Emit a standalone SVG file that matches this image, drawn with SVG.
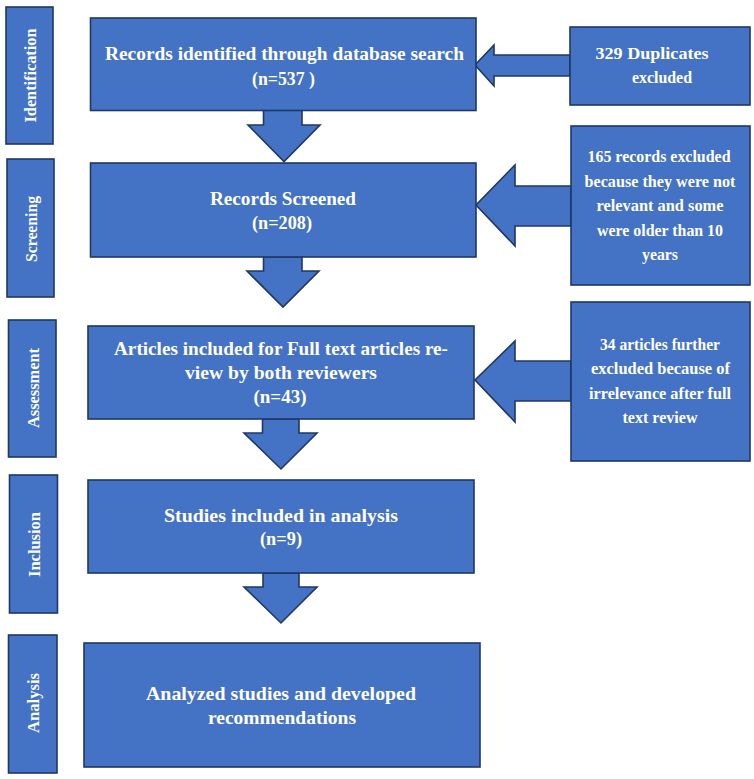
<svg xmlns="http://www.w3.org/2000/svg" width="754" height="779" viewBox="0 0 754 779">
<style>
.bx{fill:#4472C4;stroke:#203864;stroke-width:1.6}
.ar{fill:#4472C4;stroke:#203864;stroke-width:1.6;stroke-linejoin:miter}
.t{fill:#fff;font-family:"Liberation Serif","DejaVu Serif",serif;font-weight:bold;font-size:19px;text-anchor:middle}
.s{fill:#fff;font-family:"Liberation Serif","DejaVu Serif",serif;font-weight:bold;font-size:16.5px;text-anchor:middle}
.v{fill:#fff;font-family:"Liberation Serif","DejaVu Serif",serif;font-weight:bold;font-size:16px;text-anchor:middle;dominant-baseline:central}
</style>
<rect width="754" height="779" fill="#fff"/>
<g id="connectors">
<polygon class="ar" points="263.5,110 302,110 302,125 320,125 284,161.5 248,125 263.5,125"/>
<polygon class="ar" points="263.5,257 302,257 302,271 319,271 283,307 247,271 263.5,271"/>
<polygon class="ar" points="262.5,419 299,419 299,433 317,433 281,469 244,433 262.5,433"/>
<polygon class="ar" points="263,573 299,573 299,587 317,587 281,623 244,587 263,587"/>
<polygon class="ar" points="570,55 494,55 494,45 475,65 494,86 494,76 570,76"/>
<polygon class="ar" points="571,186 515,186 515,165 476,205 515,246 515,226 571,226"/>
<polygon class="ar" points="571,361 515,361 515,341 475,380 515,422 515,401 571,401"/>
</g>
<g id="stage-identification">
<rect class="bx" x="6" y="7" width="47" height="137"/>
<text class="v" transform="translate(30.5,75.5) rotate(-90)" textLength="94" lengthAdjust="spacingAndGlyphs">Identification</text>
</g>
<g id="stage-screening">
<rect class="bx" x="7" y="159" width="47" height="138"/>
<text class="v" transform="translate(31.5,229) rotate(-90)" textLength="66" lengthAdjust="spacingAndGlyphs">Screening</text>
</g>
<g id="stage-assessment">
<rect class="bx" x="8.5" y="320" width="47.5" height="137"/>
<text class="v" transform="translate(33,388) rotate(-90)" textLength="80" lengthAdjust="spacingAndGlyphs">Assessment</text>
</g>
<g id="stage-inclusion">
<rect class="bx" x="9.5" y="475" width="48" height="138"/>
<text class="v" transform="translate(34,544.5) rotate(-90)" textLength="65" lengthAdjust="spacingAndGlyphs">Inclusion</text>
</g>
<g id="stage-analysis">
<rect class="bx" x="8.5" y="635" width="48.5" height="138"/>
<text class="v" transform="translate(33,703) rotate(-90)" textLength="60" lengthAdjust="spacingAndGlyphs">Analysis</text>
</g>
<g id="records-identified">
<rect class="bx" x="90.5" y="18" width="385.5" height="92.5"/>
<text class="t" x="284.5" y="60" textLength="359" lengthAdjust="spacingAndGlyphs">Records identified through database search</text>
<text class="t" x="283.5" y="84.5" textLength="63" lengthAdjust="spacingAndGlyphs">(n=537 )</text>
</g>
<g id="duplicates-excluded">
<rect class="bx" x="570" y="27" width="180" height="78"/>
<text class="s" x="652" y="59" textLength="113" lengthAdjust="spacingAndGlyphs">329 Duplicates</text>
<text class="s" x="662" y="83" textLength="60" lengthAdjust="spacingAndGlyphs">excluded</text>
</g>
<g id="records-screened">
<rect class="bx" x="90.5" y="163" width="385.5" height="94"/>
<text class="t" x="283" y="205" textLength="146" lengthAdjust="spacingAndGlyphs">Records Screened</text>
<text class="t" x="282" y="229" textLength="60" lengthAdjust="spacingAndGlyphs">(n=208)</text>
</g>
<g id="records-excluded">
<rect class="bx" x="571" y="126" width="179" height="159"/>
<text class="s" x="659" y="162" textLength="143" lengthAdjust="spacingAndGlyphs">165 records excluded</text>
<text class="s" x="660" y="187" textLength="151" lengthAdjust="spacingAndGlyphs">because they were not</text>
<text class="s" x="660" y="211" textLength="127" lengthAdjust="spacingAndGlyphs">relevant and some</text>
<text class="s" x="660" y="236" textLength="126" lengthAdjust="spacingAndGlyphs">were older than 10</text>
<text class="s" x="660" y="260" textLength="36" lengthAdjust="spacingAndGlyphs">years</text>
</g>
<g id="full-text-review">
<rect class="bx" x="88" y="326" width="386" height="93"/>
<text class="t" x="281" y="355" textLength="334" lengthAdjust="spacingAndGlyphs">Articles included for Full text articles re-</text>
<text class="t" x="281" y="379" textLength="192" lengthAdjust="spacingAndGlyphs">view by both reviewers</text>
<text class="t" x="280" y="403" textLength="53" lengthAdjust="spacingAndGlyphs">(n=43)</text>
</g>
<g id="articles-excluded">
<rect class="bx" x="571" y="302" width="179" height="159"/>
<text class="s" x="660" y="350" textLength="120" lengthAdjust="spacingAndGlyphs">34 articles further</text>
<text class="s" x="660.5" y="374" textLength="139" lengthAdjust="spacingAndGlyphs">excluded because of</text>
<text class="s" x="660" y="399" textLength="142" lengthAdjust="spacingAndGlyphs">irrelevance after full</text>
<text class="s" x="660" y="423" textLength="75" lengthAdjust="spacingAndGlyphs">text review</text>
</g>
<g id="studies-included">
<rect class="bx" x="88" y="480" width="386" height="93"/>
<text class="t" x="281" y="522" textLength="234" lengthAdjust="spacingAndGlyphs">Studies included in analysis</text>
<text class="t" x="281" y="545" textLength="42" lengthAdjust="spacingAndGlyphs">(n=9)</text>
</g>
<g id="analysis-recommendations">
<rect class="bx" x="84" y="643" width="396" height="124"/>
<text class="t" x="281" y="700" textLength="270" lengthAdjust="spacingAndGlyphs">Analyzed studies and developed</text>
<text class="t" x="282" y="724" textLength="148" lengthAdjust="spacingAndGlyphs">recommendations</text>
</g>
</svg>
